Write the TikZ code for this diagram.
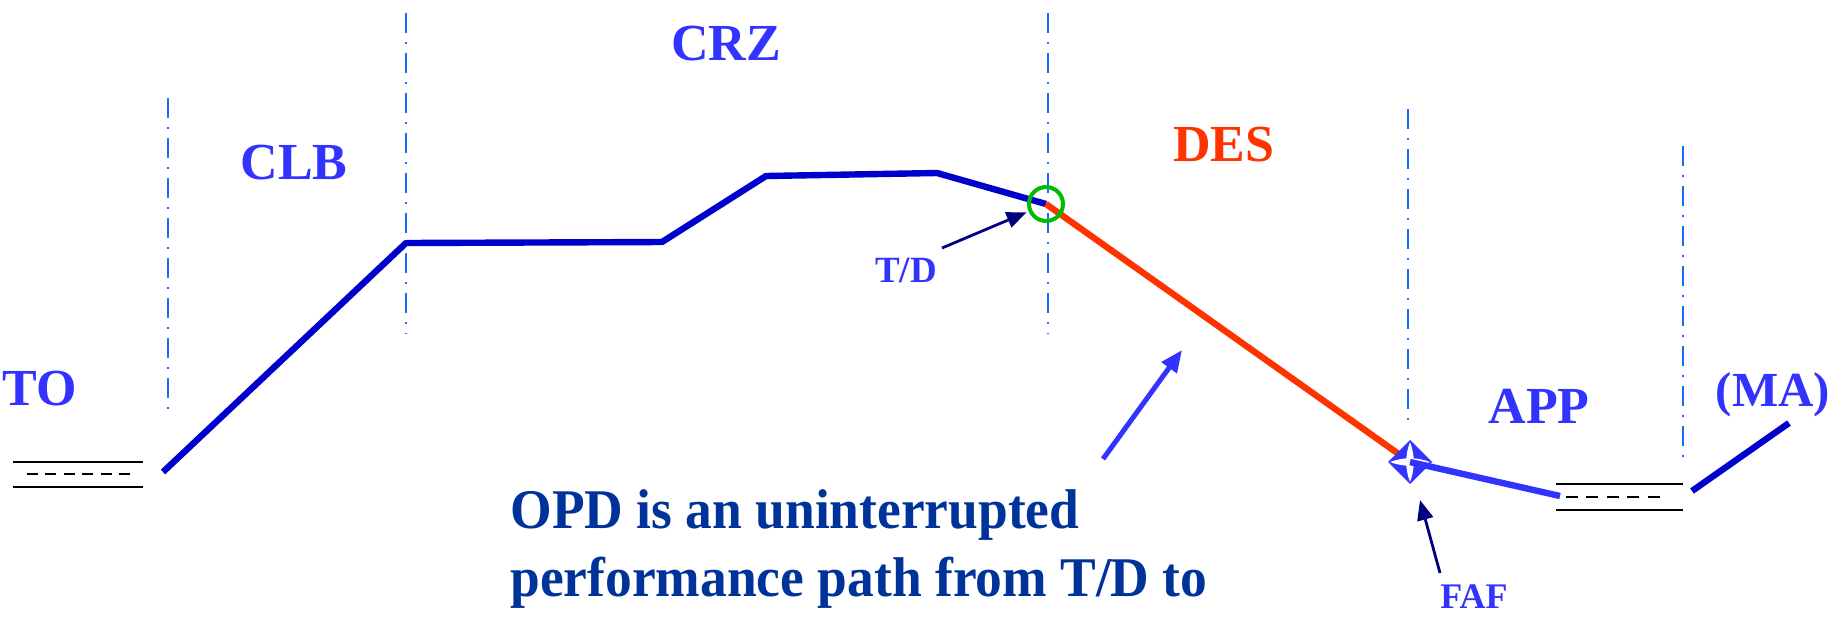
\documentclass[tikz,border=0pt]{standalone}
\usepackage{fontspec}
\setmainfont{Liberation Serif}
\usetikzlibrary{arrows.meta}
\definecolor{lblue}{HTML}{3333FF}
\definecolor{pathblue}{HTML}{0000CC}
\definecolor{desred}{HTML}{FF3300}
\definecolor{navyc}{HTML}{000080}
\definecolor{opdblue}{HTML}{003399}
\definecolor{sepblue}{HTML}{1A6AFF}
\definecolor{tdgreen}{HTML}{00BB00}
\begin{document}
\begin{tikzpicture}[x=0.5pt,y=-0.5pt,
  sepline/.style={draw=sepblue, line width=1.3pt, dash pattern=on 10pt off 4.5pt on 1pt off 4.5pt},
  prof/.style={line width=3.2pt, line join=bevel},
  phase/.style={font=\bfseries\fontsize{26}{30}\selectfont, text=lblue, inner sep=0pt},
  small/.style={font=\bfseries\fontsize{18.5}{20}\selectfont, text=lblue, inner sep=0pt},
  opd/.style={font=\bfseries\fontsize{28}{34}\selectfont, text=opdblue, inner sep=0pt, anchor=base west},
  rwy/.style={draw=black, line width=1.1pt},
  rwydash/.style={draw=black, line width=1.1pt, dash pattern=on 5.5pt off 3.7pt},
  rwydashb/.style={draw=black, line width=1.1pt, dash pattern=on 6pt off 4.2pt},
  ptr/.style={draw=navyc, line width=1.4pt, -{Triangle[length=10pt,width=8pt]}}
]
\useasboundingbox (0,0) rectangle (1831,617);

% phase separators
\coordinate (v1t) at (168,98);   \coordinate (v1b) at (168,410);
\coordinate (v2t) at (406,13);   \coordinate (v2b) at (406,334);
\coordinate (v3t) at (1048,13);  \coordinate (v3b) at (1048,334);
\coordinate (v4t) at (1408,109); \coordinate (v4b) at (1408,420);
\coordinate (v5t) at (1683,146); \coordinate (v5b) at (1683,457);
\foreach \a in {1,...,5} \draw[sepline] (v\a t) -- (v\a b);

% runways
\coordinate (r1a) at (13,462);  \coordinate (r1b) at (143,462);
\coordinate (r1c) at (27,474);  \coordinate (r1d) at (132,474);
\coordinate (r1e) at (13,487);  \coordinate (r1f) at (143,487);
\draw[rwy] (r1a) -- (r1b);
\draw[rwydash] (r1c) -- (r1d);
\draw[rwy] (r1e) -- (r1f);
\coordinate (r2a) at (1556,484); \coordinate (r2b) at (1683,484);
\coordinate (r2c) at (1566,497); \coordinate (r2d) at (1662,497);
\coordinate (r2e) at (1556,510); \coordinate (r2f) at (1683,510);
\draw[rwy] (r2a) -- (r2b);
\draw[rwydashb] (r2c) -- (r2d);
\draw[rwy] (r2e) -- (r2f);

% profile
\coordinate (p0) at (163,472);
\coordinate (p1) at (406,243);
\coordinate (p2) at (662,242);
\coordinate (p3) at (766,176);
\coordinate (p4) at (937,173);
\coordinate (td) at (1046,204);
\coordinate (faf) at (1410,462);
\coordinate (thr) at (1560,496);
\coordinate (ma0) at (1692,491);
\coordinate (ma1) at (1789,423);
\draw[prof, draw=pathblue] (p0) -- (p1) -- (p2) -- (p3) -- (p4) -- (td);
\draw[prof, draw=desred] (td) -- (faf);

% FAF symbol
\begin{scope}[shift={(faf)}]
  \fill[lblue] (0,-22) -- (22,0) -- (0,22) -- (-22,0) -- cycle;
  \fill[white] (0,-20) .. controls (5,-7) and (5,7) .. (0,20) .. controls (-5,7) and (-5,-7) .. (0,-20);
  \fill[white] (-20,0) .. controls (-7,5) and (7,5) .. (20,0) .. controls (7,-5) and (-7,-5) .. (-20,0);
\end{scope}
\draw[prof, draw=lblue] (faf) -- (thr);
\draw[prof, draw=pathblue] (ma0) -- (ma1);

% T/D marker
\node[circle, draw=tdgreen, line width=2pt, minimum size=17pt, inner sep=0pt] (tdc) at (td) {};

% labels
\node[phase] (to)  at (40,389)   {TO};
\node[phase] (clb) at (294,163)  {CLB};
\node[phase] (crz) at (726,44)   {CRZ};
\node[phase, text=desred] (des) at (1224,145) {DES};
\node[phase] (app) at (1539,406) {APP};
\node[phase, font=\bfseries\fontsize{24.5}{30}\selectfont] (ma)  at (1773,395) {(MA)};
\node[small] (tdl) at (906,270)  {T/D};
\node[small, font=\bfseries\fontsize{18}{20}\selectfont] (fafl) at (1474,597) {FAF};

\node[opd] (opd1) at (510,528) {\scalebox{0.955}[1]{OPD is an uninterrupted}};
\node[opd] (opd2) at (510,596) {\scalebox{0.955}[1]{performance path from T/D to}};

% pointers
\coordinate (tdtail) at (942,248);
\draw[ptr, shorten >=1pt] (tdtail) -- (tdc);
\coordinate (faftail) at (1440,573);
\coordinate (fafhead) at (1420,500);
\draw[ptr] (faftail) -- (fafhead);
\coordinate (opdtail) at (1103,459);
\coordinate (opdhead) at (1182,350);
\draw[draw=lblue, line width=2.5pt, -{Triangle[length=11pt,width=9pt]}] (opdtail) -- (opdhead);
\end{tikzpicture}
\end{document}
